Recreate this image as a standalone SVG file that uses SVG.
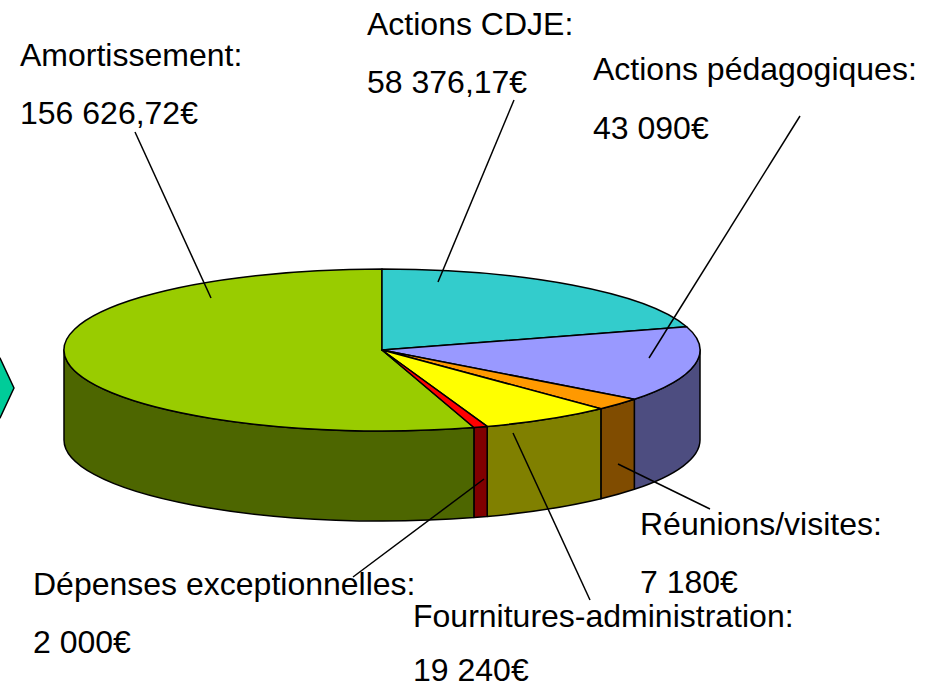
<svg xmlns="http://www.w3.org/2000/svg" width="935" height="688" viewBox="0 0 935 688">
  <style>
    .face { stroke: #000; stroke-width: 1.5; stroke-linejoin: round; }
    .lbl { font-family: "Liberation Sans", Arial, sans-serif; font-size: 32px; fill: #000; }
    .lead { stroke: #000; stroke-width: 1.5; fill: none; }
  </style>
  <rect width="935" height="688" fill="#fff"/>
  <polygon id="hexagon" class="face" fill="#00CC99" points="-20,358 0,358 14,388 0,418 -20,418"/>

  <g id="pie-sides">
    <path id="side-pedagogiques" class="face" fill="#4D4D80" d="M700,350 A318,81 0 0 1 634.33,399.30 L634.33,489.30 A318,81 0 0 0 700,440 Z"/>
    <path id="side-reunions" class="face" fill="#804C00" d="M634.33,399.30 A318,81 0 0 1 600.89,408.76 L600.89,498.76 A318,81 0 0 0 634.33,489.30 Z"/>
    <path id="side-fournitures" class="face" fill="#808000" d="M600.89,408.76 A318,81 0 0 1 487.17,426.44 L487.17,516.44 A318,81 0 0 0 600.89,498.76 Z"/>
    <path id="side-depenses" class="face" fill="#800000" d="M487.17,426.44 A318,81 0 0 1 473.91,427.54 L473.91,517.54 A318,81 0 0 0 487.17,516.44 Z"/>
    <path id="side-amortissement" class="face" fill="#4D6600" d="M473.91,427.54 A318,81 0 0 1 64,350 L64,440 A318,81 0 0 0 473.91,517.54 Z"/>
  </g>

  <g id="slice-amortissement">
    <path class="face" fill="#99CC00" d="M382,350 L473.91,427.54 A318,81 0 1 1 382,269 Z"/>
  </g>
  <g id="slice-cdje">
    <path class="face" fill="#33CCCC" d="M382,350 L382,269 A318,81 0 0 1 686.67,326.79 Z"/>
  </g>
  <g id="slice-pedagogiques">
    <path class="face" fill="#9999FF" d="M382,350 L686.67,326.79 A318,81 0 0 1 634.33,399.30 Z"/>
  </g>
  <g id="slice-reunions">
    <path class="face" fill="#FF9900" d="M382,350 L634.33,399.30 A318,81 0 0 1 600.89,408.76 Z"/>
  </g>
  <g id="slice-fournitures">
    <path class="face" fill="#FFFF00" d="M382,350 L600.89,408.76 A318,81 0 0 1 487.17,426.44 Z"/>
  </g>
  <g id="slice-depenses">
    <path class="face" fill="#FF0000" d="M382,350 L487.17,426.44 A318,81 0 0 1 473.91,427.54 Z"/>
  </g>

  <g id="connectors">
    <line class="lead" x1="135" y1="132" x2="211" y2="298"/>
    <line class="lead" x1="514" y1="100" x2="438" y2="282"/>
    <line class="lead" x1="800" y1="116" x2="649" y2="358"/>
    <line class="lead" x1="618" y1="464" x2="710" y2="509"/>
    <line class="lead" x1="513" y1="433" x2="590" y2="600"/>
    <line class="lead" x1="484" y1="479" x2="353" y2="577"/>
  </g>

  <g id="label-amortissement">
    <text class="lbl" x="20" y="66">Amortissement:</text>
    <text class="lbl" x="20" y="124">156 626,72€</text>
  </g>
  <g id="label-cdje">
    <text class="lbl" x="367" y="35">Actions CDJE:</text>
    <text class="lbl" x="367" y="93">58 376,17€</text>
  </g>
  <g id="label-pedagogiques">
    <text class="lbl" x="593" y="80">Actions pédagogiques:</text>
    <text class="lbl" x="593" y="139">43 090€</text>
  </g>
  <g id="label-reunions">
    <text class="lbl" x="640" y="535">Réunions/visites:</text>
    <text class="lbl" x="640" y="593">7 180€</text>
  </g>
  <g id="label-depenses">
    <text class="lbl" x="33" y="595">Dépenses exceptionnelles:</text>
    <text class="lbl" x="33" y="653">2 000€</text>
  </g>
  <g id="label-fournitures">
    <text class="lbl" x="413" y="627">Fournitures-administration:</text>
    <text class="lbl" x="413" y="681">19 240€</text>
  </g>
</svg>
